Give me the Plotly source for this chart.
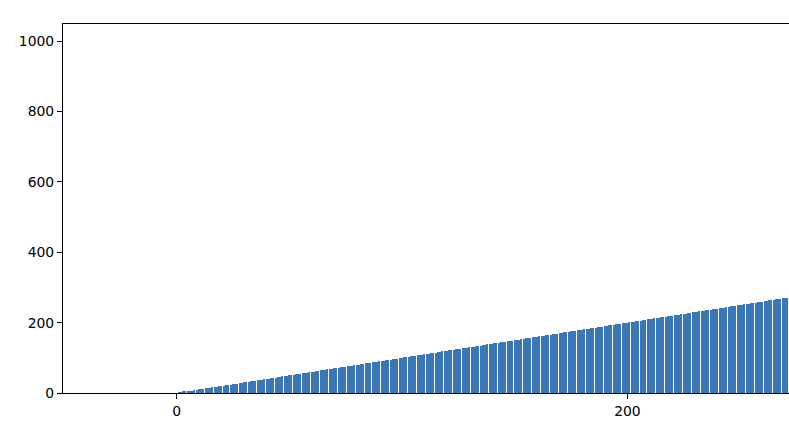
import plotly.graph_objects as go

# bar heights (bar i has height i), visible part only
values = [
    0, 1, 2, 3, 4, 5, 6, 7, 8, 9, 10, 11, 12, 13, 14, 15, 16, 17, 18, 19,
    20, 21, 22, 23, 24, 25, 26, 27, 28, 29, 30, 31, 32, 33, 34, 35, 36, 37, 38, 39,
    40, 41, 42, 43, 44, 45, 46, 47, 48, 49, 50, 51, 52, 53, 54, 55, 56, 57, 58, 59,
    60, 61, 62, 63, 64, 65, 66, 67, 68, 69, 70, 71, 72, 73, 74, 75, 76, 77, 78, 79,
    80, 81, 82, 83, 84, 85, 86, 87, 88, 89, 90, 91, 92, 93, 94, 95, 96, 97, 98, 99,
    100, 101, 102, 103, 104, 105, 106, 107, 108, 109, 110, 111, 112, 113, 114, 115, 116, 117, 118, 119,
    120, 121, 122, 123, 124, 125, 126, 127, 128, 129, 130, 131, 132, 133, 134, 135, 136, 137, 138, 139,
    140, 141, 142, 143, 144, 145, 146, 147, 148, 149, 150, 151, 152, 153, 154, 155, 156, 157, 158, 159,
    160, 161, 162, 163, 164, 165, 166, 167, 168, 169, 170, 171, 172, 173, 174, 175, 176, 177, 178, 179,
    180, 181, 182, 183, 184, 185, 186, 187, 188, 189, 190, 191, 192, 193, 194, 195, 196, 197, 198, 199,
    200, 201, 202, 203, 204, 205, 206, 207, 208, 209, 210, 211, 212, 213, 214, 215, 216, 217, 218, 219,
    220, 221, 222, 223, 224, 225, 226, 227, 228, 229, 230, 231, 232, 233, 234, 235, 236, 237, 238, 239,
    240, 241, 242, 243, 244, 245, 246, 247, 248, 249, 250, 251, 252, 253, 254, 255, 256, 257, 258, 259,
    260, 261, 262, 263, 264, 265, 266, 267, 268, 269, 270, 271, 272,
]
positions = list(range(len(values)))

x_ticks = [0, 200]
y_ticks = [0, 200, 400, 600, 800, 1000]

fig = go.Figure()
fig.add_trace(go.Bar(x=positions, y=values, width=0.6,
                     marker=dict(color="#3a77b7", line=dict(width=0))))

axis_font = dict(family="DejaVu Sans", size=13.9, color="black")
fig.update_xaxes(range=[-50.39, 271.7], tickvals=x_ticks, ticks="outside", ticklen=5,
                 tickwidth=1.1, tickcolor="black", showline=True, linecolor="black",
                 linewidth=1.1, mirror=True, showgrid=False, zeroline=False,
                 tickfont=axis_font)
fig.update_yaxes(range=[0, 1048.95], tickvals=y_ticks, ticks="outside", ticklen=5,
                 tickwidth=1.1, tickcolor="black", showline=True, linecolor="black",
                 linewidth=1.1, showgrid=False, zeroline=False, tickfont=axis_font)

fig.update_layout(width=789, height=430, margin=dict(l=63, r=0, t=24, b=37),
                  plot_bgcolor="white", paper_bgcolor="white", showlegend=False,
                  bargap=0.2)

# no page margin, and pixel-snapped bars like the reference
js = """
document.body.style.margin = '0';
document.body.style.overflow = 'hidden';
document.querySelectorAll('.bars .point path').forEach(function (p) {
    p.style.shapeRendering = 'crispEdges';
});
"""
fig.write_html("out.html", post_script=js, config={"displayModeBar": False})
